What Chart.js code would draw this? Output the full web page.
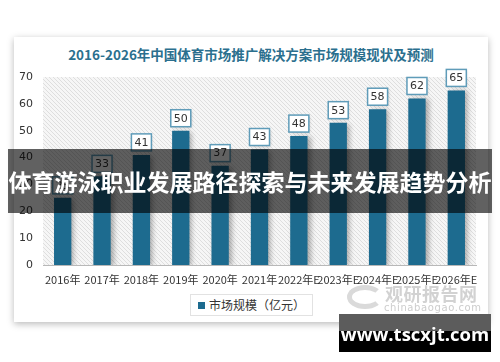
<!DOCTYPE html>
<html>
<head>
<meta charset="utf-8">
<script src="https://cdn.jsdelivr.net/npm/chart.js@4/dist/chart.umd.min.js"></script>
<style>
  body { margin: 0; width: 500px; height: 362px; background: #fff; position: relative; overflow: hidden;
         font-family: "Noto Sans CJK SC", "Noto Sans", sans-serif; }
  .card { position: absolute; left: 14px; top: 37px; width: 474px; height: 285px; background: #fff;
          box-shadow: 0 2px 7px rgba(0,0,0,0.28); }
  #chart { position: absolute; left: 0; top: 0; }
  .title { position: absolute; left: 0; width: 502px; top: 44px; text-align: center; font-size: 13.5px;
           font-weight: bold; color: #2b6f8e; white-space: nowrap; }
  .legend { position: absolute; left: 190px; top: 294px; width: 121px; height: 20px; border: 1px solid #e2e2e2;
            background: #fff; font-size: 12px; color: #333; line-height: 20px; text-align: center; }
  .legend i { display: inline-block; width: 7px; height: 7px; background: #1d6b8f; margin-right: 4px; vertical-align: 1px; }
  .wm { position: absolute; left: 385px; top: 283px; color: #d2d2d2; font-weight: bold; font-size: 18px; line-height: 20px; letter-spacing: 0.5px; }
  .wm2 { position: absolute; left: 384px; top: 303px; color: #cdcdcd; font-size: 10px; line-height: 10px; letter-spacing: 0.6px; font-family: "DejaVu Sans", sans-serif; }
  .logo { position: absolute; left: 347px; top: 285px; width: 26px; height: 14px; border: 5px solid #dadada;
          border-radius: 50%; border-right-color: transparent; }
  .band { position: absolute; left: 8px; top: 149px; width: 484px; height: 64px; background: rgba(0,0,0,0.62);
          color: #fff; font-weight: bold; font-size: 23px; line-height: 64px; text-align: center; white-space: nowrap; }
  .site { position: absolute; left: 339px; top: 314px; width: 152px; height: 38px; background: #000; }
  .site .top { position: absolute; left: 0; top: 0; width: 152px; height: 17px; background: #5c5c5c; }
  .site span { position: absolute; left: 0; width: 152px; top: 8px; text-align: center; color: #fff; font-weight: bold;
               font-size: 18.5px; line-height: 24px; font-family: "Open Sans", "DejaVu Sans", sans-serif; }
</style>
</head>
<body>
<div class="card"></div>
<div class="title">2016-2026年中国体育市场推广解决方案市场规模现状及预测</div>
<canvas id="chart" width="500" height="362"></canvas>
<div class="legend"><i></i>市场规模（亿元）</div>
<div class="logo"></div>
<div class="wm">观研报告网</div>
<div class="wm2">chinabaogao.com</div>
<div class="band">体育游泳职业发展路径探索与未来发展趋势分析</div>
<div class="site"><div class="top"></div><span>www.tscxjt.com</span></div>
<script>
// chart data
const years = ['2016年', '2017年', '2018年', '2019年', '2020年', '2021年', '2022年E', '2023年E', '2024年E', '2025年E', '2026年E'];
const marketSize = [25, 33, 41, 50, 37, 43, 48, 53, 58, 62, 65];
const seriesName = '市场规模（亿元）';

// hatched plot background
function hatch() {
    const c = document.createElement('canvas');
    c.width = 4; c.height = 4;
    const g = c.getContext('2d');
    g.fillStyle = '#f6f6f6';
    g.fillRect(0, 0, 4, 4);
    g.strokeStyle = '#dedede';
    g.lineWidth = 1;
    g.beginPath();
    g.moveTo(0, 0); g.lineTo(4, 4);
    g.moveTo(-1, 3); g.lineTo(1, 5);
    g.moveTo(3, -1); g.lineTo(5, 1);
    g.stroke();
    return c;
}

const background = {
    id: 'background',
    beforeDraw(chart) {
        const { ctx, chartArea: a } = chart;
        ctx.save();
        ctx.fillStyle = ctx.createPattern(hatch(), 'repeat');
        ctx.fillRect(a.left, a.top, a.right - a.left, a.bottom - a.top);
        ctx.restore();
    },
    beforeDatasetsDraw(chart) {
        const ctx = chart.ctx;
        ctx.save();
        ctx.shadowColor = 'rgba(0,0,0,0.3)';
        ctx.shadowBlur = 5;
        ctx.shadowOffsetX = 3;
        ctx.shadowOffsetY = 1;
    },
    afterDatasetsDraw(chart) {
        const ctx = chart.ctx;
        ctx.restore();
        // value boxes
        const meta = chart.getDatasetMeta(0);
        ctx.save();
        ctx.font = '11px "DejaVu Sans", sans-serif';
        ctx.textAlign = 'center';
        ctx.textBaseline = 'middle';
        meta.data.forEach((bar, i) => {
            const w = 20, h = 17;
            const x = bar.x - w / 2, y = bar.y - 4 - h;
            ctx.shadowColor = 'rgba(0,0,0,0.2)';
            ctx.shadowBlur = 3;
            ctx.shadowOffsetX = 1;
            ctx.shadowOffsetY = 1;
            ctx.fillStyle = '#fff';
            ctx.fillRect(x, y, w, h);
            ctx.shadowColor = 'transparent';
            ctx.strokeStyle = '#5f9cb9';
            ctx.lineWidth = 1.5;
            ctx.strokeRect(x, y, w, h);
            ctx.fillStyle = '#333';
            ctx.fillText(String(marketSize[i]), bar.x, y + h / 2 + 0.5);
        });
        ctx.restore();
    }
};

new Chart(document.getElementById('chart'), {
    type: 'bar',
    data: {
        labels: years,
        datasets: [{
            label: seriesName,
            data: marketSize,
            backgroundColor: '#1d6b8f',
            borderWidth: 0,
            categoryPercentage: 1,
            barPercentage: 0.44
        }]
    },
    options: {
        responsive: false,
        animation: false,
        layout: { padding: { left: 0, right: 24, top: 77, bottom: 70 } },
        plugins: {
            legend: { display: false },
            tooltip: { enabled: false }
        },
        scales: {
            x: {
                grid: { display: false, drawTicks: false },
                border: { color: '#b8b8b8', width: 1 },
                ticks: { color: '#333', font: { size: 11, family: '"Noto Sans CJK SC", sans-serif' }, padding: 8,
                         autoSkip: false, maxRotation: 0 },
                afterFit(s) { s.height = 27; }
            },
            y: {
                min: 0, max: 70,
                grid: { display: false, drawTicks: false },
                border: { display: false },
                ticks: { stepSize: 10, color: '#333', font: { size: 11, family: '"DejaVu Sans", sans-serif' }, padding: 10 },
                afterFit(s) { s.width = 43; }
            }
        }
    },
    plugins: [background]
});
</script>
</body>
</html>
